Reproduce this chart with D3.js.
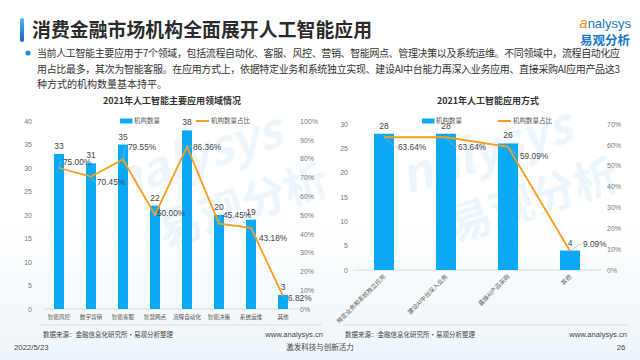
<!DOCTYPE html>
<html>
<head>
<meta charset="utf-8">
<script src="https://cdn.jsdelivr.net/npm/d3@7/dist/d3.min.js"></script>
<style>
  html, body { margin: 0; padding: 0; background: #fff; }
  svg { display: block; font-family: "Noto Sans CJK SC", "Noto Sans", sans-serif; }
</style>
</head>
<body>
<svg id="chart" width="640" height="360"></svg>
<script>
(function () {
    "use strict";

    // ---- data ----
    var fieldCats   = ["智能风控", "数字营销", "智能客服", "智慧网点", "流程自动化", "智能决策", "系统运维", "其他"];
    var fieldCounts = [33, 31, 35, 22, 38, 20, 19, 3];
    var fieldPct    = [75.00, 70.45, 79.55, 50.00, 86.36, 45.45, 43.18, 6.82];
    var fieldTicksL = [0, 5, 10, 15, 20, 25, 30, 35, 40];
    var fieldTicksR = [0, 10, 20, 30, 40, 50, 60, 70, 80, 90, 100];

    var modeCats   = ["特定业务和系统独立应用", "建设AI中台深入业务", "直接AI产品采购", "其他"];
    var modeCounts = [28, 28, 26, 4];
    var modePct    = [63.64, 63.64, 59.09, 9.09];
    var modeTicksL = [0, 5, 10, 15, 20, 25, 30];
    var modeTicksR = [0, 10, 20, 30, 40, 50, 60, 70];

    // label nudges (layout only)
    var fieldPctOff = [[4, -3], [6, 8], [5, -9], [2, 1], [6, 3], [4, -6], [8, 13], [5, 5]];
    var modePctOff  = [[14, 13], [12, 13], [12, 12], [13, -4]];

    var BLUE = "#0aa9f6", ORANGE = "#f99d1c", GRAY = "#777", AXIS = "#dcdcdc";
    var NUMF = "Liberation Sans, Arial, sans-serif";

    var svg = d3.select("#chart");

    // faint background
    var defs = svg.append("defs");
    var g0 = defs.append("linearGradient").attr("id", "bg").attr("x1", 0).attr("y1", 0).attr("x2", 0).attr("y2", 1);
    g0.append("stop").attr("offset", "0.6").attr("stop-color", "#ffffff");
    g0.append("stop").attr("offset", "1").attr("stop-color", "#eef5fa");
    svg.append("rect").attr("width", 640).attr("height", 360).attr("fill", "url(#bg)");

    var tb = defs.append("linearGradient").attr("id", "tbar").attr("x1", 0).attr("y1", 0).attr("x2", 0).attr("y2", 1);
    tb.append("stop").attr("offset", "0").attr("stop-color", "#4fb6f5");
    tb.append("stop").attr("offset", "1").attr("stop-color", "#1565c0");

    // watermarks
    [[180, 200], [470, 195]].forEach(function (p) {
        var w = svg.append("g").attr("transform", "translate(" + p[0] + "," + p[1] + ") rotate(-18)")
            .attr("opacity", 0.08);
        w.append("text").attr("x", -60).attr("y", -20).attr("font-size", 48).attr("font-style", "italic")
            .attr("font-weight", "bold").attr("fill", "#2a9be8").text("nalysys");
        w.append("text").attr("x", -30).attr("y", 40).attr("font-size", 44).attr("font-weight", "bold")
            .attr("fill", "#2a9be8").text("易观分析");
    });

    // header
    svg.append("rect").attr("x", 20).attr("y", 18).attr("width", 4).attr("height", 24).attr("rx", 2)
        .attr("fill", "url(#tbar)");
    svg.append("text").attr("x", 32).attr("y", 37).attr("font-size", 18.8).attr("font-weight", "bold")
        .attr("fill", "#2b2b2b").attr("textLength", 340)
        .text("消费金融市场机构全面展开人工智能应用");

    // logo
    svg.append("text").attr("x", 631).attr("y", 28).attr("text-anchor", "end").attr("font-size", 13)
        .attr("fill", "#1a78c8").attr("font-family", NUMF)
        .html('<tspan fill="#f7931e" font-size="15" font-style="italic">a</tspan>nalysys');
    svg.append("text").attr("x", 630).attr("y", 45).attr("text-anchor", "end").attr("font-size", 12.5)
        .attr("font-weight", "bold").attr("fill", "#1a78c8").text("易观分析");

    // bullet text
    svg.append("circle").attr("cx", 28).attr("cy", 53).attr("r", 2.6).attr("fill", "#1e90e0");
    var para = [
        "当前人工智能主要应用于7个领域，包括流程自动化、客服、风控、营销、智能网点、管理决策以及系统运维。不同领域中，流程自动化应",
        "用占比最多，其次为智能客服。在应用方式上，依据特定业务和系统独立实现、建设AI中台能力再深入业务应用、直接采购AI应用产品这3",
        "种方式的机构数量基本持平。"
    ];
    svg.append("g").selectAll("text").data(para).join("text")
        .attr("x", 37).attr("y", function (d, i) { return 57 + i * 15.5; })
        .attr("font-size", 10).attr("fill", "#333")
        .attr("textLength", function (d, i) { return i < 2 ? 583 : null; })
        .text(function (d) { return d; });

    function drawChart(o) {
        var g = svg.append("g");
        var x = d3.scaleBand().domain(o.cats).range([o.x0, o.x1]);
        var yL = d3.scaleLinear().domain([0, o.maxL]).range([o.yBot, o.yTop]);
        var yR = d3.scaleLinear().domain([0, o.maxR]).range([o.yBot, o.yTop]);

        g.append("text").attr("x", o.titleX).attr("y", 104).attr("text-anchor", "middle")
            .attr("font-size", 9).attr("font-weight", "bold").attr("fill", "#333").text(o.title);

        var axL = g.append("g").attr("transform", "translate(" + o.lx + ",0)")
            .call(d3.axisLeft(yL).tickValues(o.ticksL).tickSize(0).tickPadding(0));
        var axR = g.append("g").attr("transform", "translate(" + o.rx + ",0)")
            .call(d3.axisRight(yR).tickValues(o.ticksR).tickSize(0).tickPadding(0)
                .tickFormat(function (d) { return d + "%"; }));
        [axL, axR].forEach(function (a) {
            a.select(".domain").remove();
            a.selectAll("text").attr("fill", GRAY).attr("font-size", 7).attr("font-family", NUMF);
        });

        g.append("line").attr("x1", o.x0).attr("x2", o.x1).attr("y1", o.yBot).attr("y2", o.yBot)
            .attr("stroke", AXIS).attr("stroke-width", 1);

        // bars
        g.selectAll("rect.bar").data(o.counts).join("rect").attr("class", "bar")
            .attr("x", function (d, i) { return x(o.cats[i]) + (x.bandwidth() - o.barW) / 2; })
            .attr("y", function (d) { return yL(d); })
            .attr("width", o.barW)
            .attr("height", function (d) { return o.yBot - yL(d); })
            .attr("fill", BLUE);

        g.selectAll("text.val").data(o.counts).join("text").attr("class", "val")
            .attr("x", function (d, i) { return x(o.cats[i]) + x.bandwidth() / 2; })
            .attr("y", function (d) { return yL(d) - 5; })
            .attr("text-anchor", "middle").attr("font-size", 8.5).attr("fill", "#444")
            .attr("font-family", NUMF)
            .text(function (d) { return d; });

        // line
        var cx = function (d, i) { return x(o.cats[i]) + x.bandwidth() / 2; };
        var line = d3.line().x(cx).y(function (d) { return yR(d); });
        g.append("path").datum(o.pct).attr("d", line).attr("fill", "none")
            .attr("stroke", ORANGE).attr("stroke-width", 1.8);

        // pct labels with leaders
        o.pct.forEach(function (d, i) {
            var px = cx(d, i), py = yR(d);
            var tx = px + o.off[i][0], ty = py + o.off[i][1];
            g.append("path").attr("d", "M" + px + "," + py + "L" + (tx - 3) + "," + (ty - 3) + "L" + (tx - 1) + "," + (ty - 3))
                .attr("fill", "none").attr("stroke", "#b5b5b5").attr("stroke-width", 0.6);
            g.append("text").attr("x", tx).attr("y", ty).attr("font-size", 8.3).attr("fill", "#444")
                .attr("font-family", NUMF)
                .text(d.toFixed(2) + "%");
        });

        // category labels
        var cl = g.selectAll("text.cat").data(o.cats).join("text").attr("class", "cat")
            .attr("fill", "#555");
        if (o.rotate) {
            cl.attr("text-anchor", "end").attr("font-size", 6)
                .attr("transform", function (d) {
                    return "translate(" + (x(d) + x.bandwidth() / 2 + 2) + "," + (o.yBot + 7) + ") rotate(-45)";
                })
                .text(function (d) { return d; });
        } else {
            cl.attr("text-anchor", "middle").attr("font-size", 5.6)
                .attr("x", function (d) { return x(d) + x.bandwidth() / 2; })
                .attr("y", o.yBot + 10)
                .text(function (d) { return d; });
        }

        // legend
        var lg = g.append("g").attr("transform", "translate(" + o.legX + ",121)");
        lg.append("rect").attr("x", 0).attr("y", -2.5).attr("width", 12.5).attr("height", 5).attr("fill", BLUE);
        lg.append("text").attr("x", 14).attr("y", 2.4).attr("font-size", 6.5).attr("fill", "#555").text("机构数量");
        lg.append("line").attr("x1", o.legGap).attr("x2", o.legGap + 13).attr("y1", 0).attr("y2", 0)
            .attr("stroke", ORANGE).attr("stroke-width", 2);
        lg.append("text").attr("x", o.legGap + 15).attr("y", 2.4).attr("font-size", 6.5).attr("fill", "#555").text("机构数量占比");

        // source line
        g.append("line").attr("x1", o.sepX0).attr("x2", o.sepX1).attr("y1", 325).attr("y2", 325)
            .attr("stroke", "#dddddd").attr("stroke-width", 1);
        g.append("text").attr("x", o.srcX).attr("y", 336.5).attr("font-size", 6.5).attr("fill", "#444")
            .text("数据来源：金融信息化研究所·易观分析整理");
        g.append("text").attr("x", o.wwwX).attr("y", 336.5).attr("text-anchor", "end").attr("font-size", 7.6)
            .attr("fill", "#444").attr("font-family", NUMF).text("www.analysys.cn");
    }

    drawChart({
        title: "2021年人工智能主要应用领域情况", titleX: 172,
        cats: fieldCats, counts: fieldCounts, pct: fieldPct, off: fieldPctOff,
        ticksL: fieldTicksL, ticksR: fieldTicksR, maxL: 40, maxR: 100,
        x0: 43, x1: 299, yTop: 121, yBot: 309, lx: 32, rx: 300, barW: 10,
        legX: 120, legGap: 76, rotate: false,
        sepX0: 40, sepX1: 322, srcX: 43, wwwX: 323
    });

    drawChart({
        title: "2021年人工智能应用方式", titleX: 488,
        cats: modeCats, counts: modeCounts, pct: modePct, off: modePctOff,
        ticksL: modeTicksL, ticksR: modeTicksR, maxL: 30, maxR: 70,
        x0: 353, x1: 601, yTop: 124, yBot: 270, lx: 348, rx: 607, barW: 20,
        legX: 422, legGap: 76, rotate: true,
        sepX0: 343, sepX1: 627, srcX: 345, wwwX: 627
    });

    // footer
    svg.append("text").attr("x", 14).attr("y", 350).attr("font-size", 7.8).attr("fill", "#444")
        .attr("font-family", NUMF).text("2022/5/23");
    svg.append("text").attr("x", 320).attr("y", 349.5).attr("text-anchor", "middle").attr("font-size", 7.5)
        .attr("fill", "#444").text("激发科技与创新活力");
    svg.append("text").attr("x", 621).attr("y", 350).attr("text-anchor", "middle").attr("font-size", 7.8)
        .attr("fill", "#444").attr("font-family", NUMF).text("26");
}());
</script>
</body>
</html>
